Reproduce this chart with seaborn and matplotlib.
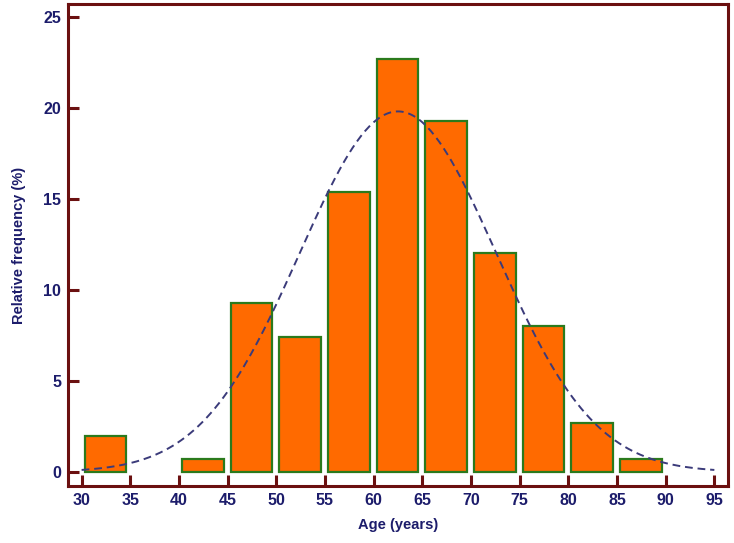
import numpy as np
import pandas as pd
import matplotlib
matplotlib.use("Agg")
import matplotlib.pyplot as plt
import seaborn as sns

# Data
bin_left = [30, 40, 45, 50, 55, 60, 65, 70, 75, 80, 85]
rel_freq = [2.0, 0.7, 9.3, 7.4, 15.4, 22.7, 19.3, 12.0, 8.0, 2.7, 0.7]
x_ticks = [30, 35, 40, 45, 50, 55, 60, 65, 70, 75, 80, 85, 90, 95]
y_ticks = [0, 5, 10, 15, 20, 25]
# fitted normal curve parameters
curve_mean = 62.5
curve_sd = 10.1
curve_peak = 19.8
curve_start, curve_end = 30, 95

sns.set_theme(style="white")
plt.rcParams['font.family'] = ['Liberation Sans', 'DejaVu Sans']

navy = "#1c1c6b"
maroon = "#6b1010"

fig = plt.figure(figsize=(7.34, 5.43), dpi=100)
ax = fig.add_axes([0.0926, 0.105, 0.8992, 0.8877])

df = pd.DataFrame({"center": np.array(bin_left) + 2.45, "freq": rel_freq})
sns.barplot(data=df, x="center", y="freq", native_scale=True, width=0.86,
            color="#ff6a00", saturation=1, edgecolor="#2b7a1c", linewidth=1.6, ax=ax)

xc = np.linspace(curve_start, curve_end, 300)
yc = curve_peak * np.exp(-0.5 * ((xc - curve_mean) / curve_sd) ** 2)
sns.lineplot(x=xc, y=yc, ax=ax, color="#3b3b7a", linewidth=1.4, linestyle=(0, (4, 2.5)))

ax.set_xlim(28.6, 96.4)
ax.set_ylim(-0.77, 25.7)
ax.set_xticks(x_ticks)
ax.set_yticks(y_ticks)
ax.set_xticklabels([str(t) for t in x_ticks])
ax.set_yticklabels([str(t) for t in y_ticks])

for s in ax.spines.values():
    s.set_color(maroon)
    s.set_linewidth(2.2)
    s.set_visible(True)

ax.tick_params(axis="both", direction="in", length=8, width=2.2, color=maroon,
               labelsize=11.5, labelcolor=navy, pad=5)
ax.tick_params(axis="x", top=False, bottom=True)
ax.tick_params(axis="y", left=True, right=False)
for lbl in ax.get_xticklabels() + ax.get_yticklabels():
    lbl.set_fontweight("bold")

ax.set_xlabel("Age (years)", fontsize=10.5, fontweight="bold", color=navy, labelpad=7)
ax.set_ylabel("Relative frequency (%)", fontsize=10.5, fontweight="bold", color=navy, labelpad=12)
ax.grid(False)

fig.savefig("out.png", dpi=100)
